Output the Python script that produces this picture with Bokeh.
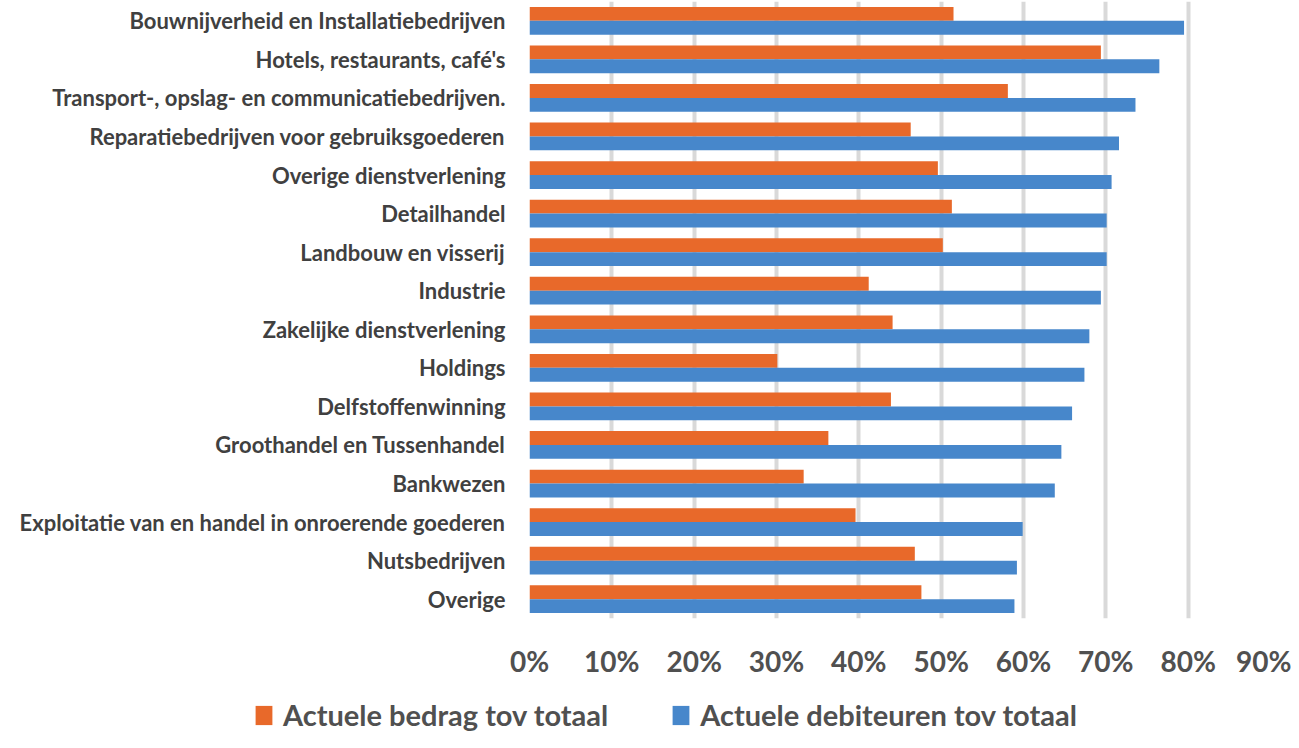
from bokeh.plotting import figure
from bokeh.layouts import column
from bokeh.models import FactorRange, ColumnDataSource, Legend, LegendItem, FixedTicker, NumeralTickFormatter
from bokeh.transform import dodge
from bokeh.embed import file_html
from bokeh.resources import INLINE

categories = [
    "Bouwnijverheid en Installatiebedrijven",
    "Hotels, restaurants, café's",
    "Transport-, opslag- en communicatiebedrijven.",
    "Reparatiebedrijven voor gebruiksgoederen",
    "Overige dienstverlening",
    "Detailhandel",
    "Landbouw en visserij",
    "Industrie",
    "Zakelijke dienstverlening",
    "Holdings",
    "Delfstoffenwinning",
    "Groothandel en Tussenhandel",
    "Bankwezen",
    "Exploitatie van en handel in onroerende goederen",
    "Nutsbedrijven",
    "Overige",
]
bedrag = [0.515, 0.694, 0.581, 0.463, 0.496, 0.513, 0.502, 0.412, 0.441, 0.301,
          0.439, 0.363, 0.333, 0.396, 0.468, 0.476]
debiteuren = [0.795, 0.765, 0.736, 0.716, 0.707, 0.701, 0.701, 0.694, 0.680, 0.674,
              0.659, 0.646, 0.638, 0.599, 0.592, 0.589]
series_names = ["Actuele bedrag tov totaal", "Actuele debiteuren tov totaal"]
x_ticks = [0.0, 0.1, 0.2, 0.3, 0.4, 0.5, 0.6, 0.7, 0.8, 0.9]

ORANGE = "#E8692A"
BLUE = "#4787CB"
GRID = "#D9D9D9"
TEXT = "#404040"
TICK_TEXT = "#505050"

src = ColumnDataSource(dict(cat=categories, bedrag=bedrag, debiteuren=debiteuren))

p = figure(
    width=1291, height=686,
    y_range=FactorRange(factors=list(reversed(categories)), range_padding=0),
    x_range=(0, 0.9),
    output_backend="svg", toolbar_location=None,
    min_border_left=529, min_border_right=21, min_border_top=1, min_border_bottom=68,
)
p.outline_line_color = None
p.background_fill_color = "white"

p.hbar(y=dodge("cat", 0.18, range=p.y_range), right="bedrag", left=0, height=0.36,
       source=src, fill_color=ORANGE, line_color=None)
p.hbar(y=dodge("cat", -0.18, range=p.y_range), right="debiteuren", left=0, height=0.36,
       source=src, fill_color=BLUE, line_color=None)

p.xgrid.ticker = FixedTicker(ticks=x_ticks)
p.xgrid.grid_line_color = GRID
p.xgrid.grid_line_width = 4
p.ygrid.grid_line_color = None

xa = p.xaxis[0]
xa.ticker = FixedTicker(ticks=x_ticks)
xa.formatter = NumeralTickFormatter(format="0%")
xa.axis_line_color = None
xa.major_tick_line_color = None
xa.minor_tick_line_color = None
xa.major_tick_out = 0
xa.major_tick_in = 0
xa.major_label_standoff = 25
xa.major_label_text_font = "Lato"
xa.major_label_text_font_size = "28px"
xa.major_label_text_font_style = "bold"
xa.major_label_text_color = TICK_TEXT

ya = p.yaxis[0]
ya.axis_line_color = None
ya.major_tick_line_color = None
ya.minor_tick_line_color = None
ya.major_tick_out = 0
ya.major_tick_in = 0
ya.major_label_standoff = 24
ya.major_label_text_font = "Lato"
ya.major_label_text_font_size = "22px"
ya.major_label_text_font_style = "bold"
ya.major_label_text_color = TEXT

# legend strip below the chart
lg = figure(width=1291, height=46, x_range=(0, 1),
            y_range=FactorRange(factors=list(reversed(categories)), range_padding=0),
            output_backend="svg", toolbar_location=None,
            min_border_left=0, min_border_right=0, min_border_top=0, min_border_bottom=0)
aligned = True
if "frame_align" in lg.properties():
    lg.frame_align = False
    p.frame_align = False
    aligned = False
lg.axis.visible = False
lg.grid.visible = False
lg.outline_line_color = None
l1 = lg.hbar(y="cat", right="bedrag", left=0, height=0.36, source=src,
             fill_color=ORANGE, line_color=None, visible=False)
l2 = lg.hbar(y="cat", right="debiteuren", left=0, height=0.36, source=src,
             fill_color=BLUE, line_color=None, visible=False)

legend = Legend(
    items=[LegendItem(label=series_names[0], renderers=[l1]),
           LegendItem(label=series_names[1], renderers=[l2])],
    orientation="horizontal",
    location=(253 - (529 if aligned else 0), 0),
    padding=0, margin=0, spacing=62, label_standoff=9,
    glyph_width=21, glyph_height=24,
    label_text_font="Lato", label_text_font_size="29px", label_text_color=TICK_TEXT,
    label_text_font_style="bold",
    border_line_color=None, background_fill_alpha=0,
    inactive_fill_alpha=0,
)
lg.add_layout(legend, "center")

layout = column(p, lg, spacing=0)
open("out.html", "w").write(file_html(layout, INLINE))
